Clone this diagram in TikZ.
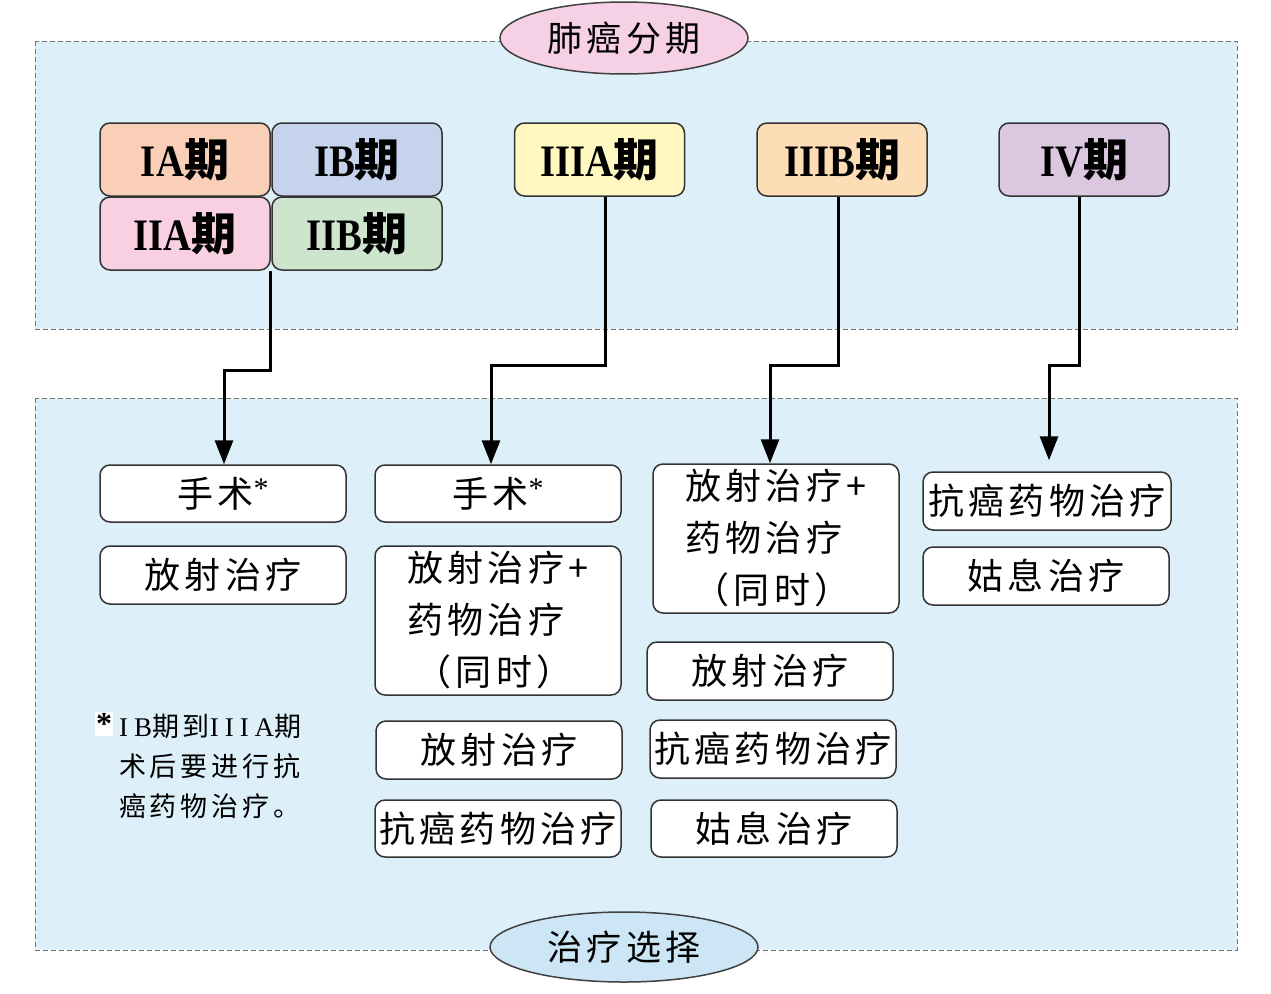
\documentclass[tikz,border=0pt]{standalone}
\usepackage{fontspec}
\usetikzlibrary{arrows.meta,shapes.geometric}
\newfontfamily\cjk{Noto Sans CJK SC}[LetterSpace=12]
\newfontfamily\cjkn{Noto Sans CJK SC}[LetterSpace=14]
\newfontfamily\stg{Liberation Serif}[FakeStretch=0.86]
\newfontfamily\ser{Liberation Serif}[LetterSpace=22]
\newfontfamily\serp{Liberation Serif}
\definecolor{panelbg}{HTML}{DDF0FA}
\definecolor{ttlpink}{HTML}{F6D0E4}
\definecolor{ttlblue}{HTML}{CDE6F5}
\definecolor{cIA}{HTML}{F9CFB7}
\definecolor{cIB}{HTML}{C5D3EC}
\definecolor{cIIA}{HTML}{F8D0E2}
\definecolor{cIIB}{HTML}{CDE5CD}
\definecolor{cIIIA}{HTML}{FFF8C0}
\definecolor{cIIIB}{HTML}{FCDDB5}
\definecolor{cIV}{HTML}{DCC7E0}
\newcommand{\stagetxt}[1]{{\stg\bfseries #1}{\cjk\bfseries 期}}
\newcommand{\myast}{{\serp\fontsize{30}{30}\selectfont\raisebox{9pt}{*}}}
\begin{document}
\begin{tikzpicture}[x=1pt,y=-1pt,
  panel/.style={draw=black!55, dash pattern=on 5pt off 3pt, fill=panelbg, line width=0.9pt},
  stage/.style={draw=black!80, rounded corners=10pt, line width=1.5pt, minimum width=170pt, minimum height=73pt, inner sep=0pt, font=\fontsize{45}{48}\selectfont},
  tbox/.style={draw=black!80, fill=white, rounded corners=10pt, line width=1.5pt, minimum width=246pt, minimum height=57pt, inner sep=0pt, align=left, font=\cjk\fontsize{36}{52}\selectfont},
  arr/.style={line width=3pt, -{Triangle[length=24pt,width=18pt]}},
  ttl/.style={ellipse, draw=black!75, line width=1.5pt, inner sep=0pt, font=\cjk\fontsize{35}{40}\selectfont}
]
\useasboundingbox (0,0) rectangle (1271,993);
\fill[white] (0,0) rectangle (1271,993);
% panels
\path[panel] (35,41) rectangle (1237,329);
\path[panel] (35,398) rectangle (1237,950);
% titles
\node[ttl, fill=ttlpink, minimum width=248pt, minimum height=72pt] (t1) at (624,38) {肺癌分期};
\node[ttl, fill=ttlblue, minimum width=268pt, minimum height=70pt] (t2) at (624,947) {治疗选择};
% stages
\node[stage, fill=cIA] (ia) at (185,159.5) {\stagetxt{IA}};
\node[stage, fill=cIB] (ib) at (357,159.5) {\stagetxt{IB}};
\node[stage, fill=cIIA] (iia) at (185,233.5) {\stagetxt{IIA}};
\node[stage, fill=cIIB] (iib) at (357,233.5) {\stagetxt{IIB}};
\node[stage, fill=cIIIA] (iiia) at (599.5,159.5) {\stagetxt{IIIA}};
\node[stage, fill=cIIIB] (iiib) at (842,159.5) {\stagetxt{IIIB}};
\node[stage, fill=cIV] (iv) at (1084,159.5) {\stagetxt{IV}};
% treatment column 1
\node[tbox] (a1) at (223,493.5) {手术\myast};
\node[tbox, minimum height=58pt] (a2) at (223,575) {放射治疗};
% column 2
\node[tbox] (b1) at (498,493.5) {手术\myast};
\node[tbox, minimum height=149pt] (b2) at (498,620.5) {放射治疗+\\药物治疗\\\hspace*{8pt}（同时）};
\node[tbox, minimum height=58pt] (b3) at (499,750) {放射治疗};
\node[tbox] (b4) at (498,828.5) {抗癌药物治疗};
% column 3
\node[tbox, minimum height=149pt] (c1) at (776,538.5) {放射治疗+\\药物治疗\\\hspace*{8pt}（同时）};
\node[tbox, minimum height=58pt] (c2) at (770,671) {放射治疗};
\node[tbox, minimum height=58pt] (c3) at (773,749) {抗癌药物治疗};
\node[tbox] (c4) at (774,828.5) {姑息治疗};
% column 4
\node[tbox, minimum width=248pt, minimum height=58pt] (d1) at (1047,501) {抗癌药物治疗};
\node[tbox, minimum height=58pt] (d2) at (1046,576) {姑息治疗};
% footnote
\node[fill=white, inner sep=1pt, font=\serp\bfseries\fontsize{32}{32}\selectfont] (star) at (104,724) {*};
\node[anchor=north west, align=left, inner sep=0pt, font=\cjkn\fontsize{27}{40}\selectfont] (note) at (119,714)
  {{\ser IB}期到{\ser IIIA}期\\术后要进行抗\\癌药物治疗。};
% connectors
\draw[arr] (iia.south east) -- ++(0,100) -| ([xshift=1pt]a1.north);
\draw[arr] ([xshift=5.5pt]iiia.south) -- ++(0,169) -| ([xshift=-7pt]b1.north);
\draw[arr] ([xshift=-4pt]iiib.south) -- ++(0,169) -| ([xshift=-6pt]c1.north);
\draw[arr, shorten >=11pt] ([xshift=-5pt]iv.south) -- ++(0,169) -| ([xshift=2pt]d1.north);
\end{tikzpicture}
\end{document}
